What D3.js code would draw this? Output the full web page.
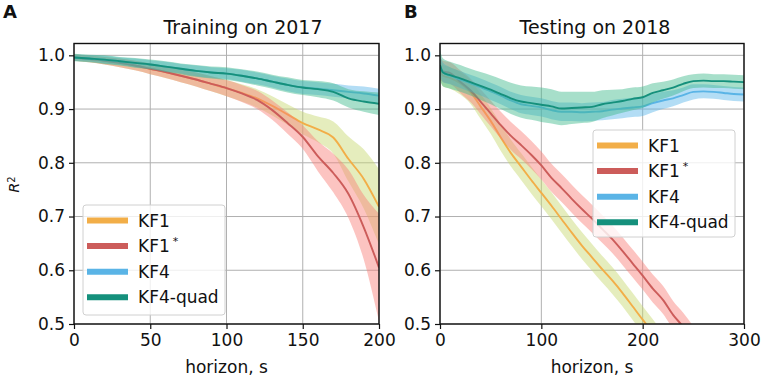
<!DOCTYPE html>
<html>
<head>
<meta charset="utf-8">
<script src="https://cdn.jsdelivr.net/npm/d3@7"></script>
<style>
  body { margin: 0; background: #fff; }
  text { font-family: "DejaVu Sans", sans-serif; fill: #111; }
</style>
</head>
<body>
<script>
// basic settings
const width = 761;
const height = 377;
const yTop = 43.5, yBottom = 324;

// panel A: training on 2017
const horizonA = [0, 10, 20, 30, 40, 50, 60, 70, 80, 90, 100, 110, 120, 130, 140, 150, 160, 170, 180, 190, 200];
const kf1A     = [0.996, 0.993, 0.990, 0.986, 0.981, 0.975, 0.969, 0.962, 0.955, 0.947, 0.939, 0.930, 0.920, 0.906, 0.890, 0.874, 0.862, 0.847, 0.807, 0.770, 0.718];
const kf1SpreadA = [0.006, 0.006, 0.007, 0.008, 0.009, 0.010, 0.011, 0.012, 0.013, 0.014, 0.015, 0.016, 0.017, 0.018, 0.019, 0.021, 0.024, 0.030, 0.042, 0.055, 0.070];
const kf1sA    = [0.996, 0.993, 0.990, 0.986, 0.981, 0.975, 0.969, 0.962, 0.955, 0.947, 0.939, 0.929, 0.917, 0.898, 0.874, 0.848, 0.812, 0.781, 0.742, 0.680, 0.605];
const kf1sSpreadA = [0.006, 0.006, 0.007, 0.008, 0.009, 0.010, 0.011, 0.012, 0.013, 0.014, 0.015, 0.016, 0.017, 0.018, 0.020, 0.022, 0.028, 0.036, 0.045, 0.060, 0.100];
const kf4A     = [0.996, 0.994, 0.992, 0.989, 0.986, 0.983, 0.979, 0.975, 0.971, 0.968, 0.966, 0.962, 0.957, 0.951, 0.945, 0.940, 0.938, 0.935, 0.932, 0.929, 0.925];
const kf4SpreadA = [0.006, 0.006, 0.007, 0.007, 0.008, 0.008, 0.009, 0.009, 0.010, 0.010, 0.010, 0.011, 0.011, 0.011, 0.012, 0.012, 0.012, 0.012, 0.012, 0.013, 0.013];
const kf4qA    = [0.996, 0.994, 0.992, 0.989, 0.986, 0.983, 0.979, 0.975, 0.971, 0.968, 0.966, 0.962, 0.957, 0.951, 0.945, 0.940, 0.937, 0.932, 0.920, 0.914, 0.910];
const kf4qSpreadA = [0.007, 0.007, 0.008, 0.008, 0.009, 0.009, 0.010, 0.010, 0.011, 0.011, 0.012, 0.012, 0.013, 0.013, 0.014, 0.014, 0.015, 0.016, 0.017, 0.019, 0.021];

// panel B: testing on 2018
const horizonB = [0, 3, 10, 20, 30, 40, 50, 60, 70, 80, 90, 100, 110, 120, 130, 140, 150, 160, 170, 180, 190, 200, 210, 220, 230, 240, 250, 260, 270, 280, 290, 300];
const kf1B     = [0.975, 0.962, 0.958, 0.948, 0.932, 0.905, 0.878, 0.847, 0.818, 0.793, 0.768, 0.744, 0.720, 0.695, 0.670, 0.646, 0.624, 0.602, 0.581, 0.558, 0.533, 0.508, 0.484, 0.460, 0.436, 0.412, 0.388, 0.364, 0.340, 0.316, 0.292, 0.268];
const kf1SpreadB = [0.020, 0.020, 0.020, 0.021, 0.022, 0.023, 0.024, 0.025, 0.025, 0.025, 0.025, 0.025, 0.025, 0.025, 0.025, 0.025, 0.025, 0.025, 0.025, 0.025, 0.025, 0.025, 0.025, 0.025, 0.025, 0.025, 0.025, 0.025, 0.025, 0.025, 0.025, 0.025];
const kf1sB    = [0.975, 0.970, 0.967, 0.951, 0.935, 0.914, 0.892, 0.870, 0.850, 0.833, 0.815, 0.795, 0.772, 0.753, 0.733, 0.714, 0.696, 0.677, 0.658, 0.636, 0.613, 0.590, 0.566, 0.545, 0.517, 0.495, 0.470, 0.446, 0.422, 0.398, 0.374, 0.350];
const kf1sSpreadB = [0.020, 0.020, 0.020, 0.021, 0.022, 0.023, 0.024, 0.025, 0.026, 0.026, 0.026, 0.026, 0.026, 0.026, 0.026, 0.026, 0.026, 0.026, 0.026, 0.026, 0.026, 0.026, 0.026, 0.026, 0.026, 0.026, 0.026, 0.026, 0.026, 0.026, 0.026, 0.026];
const kf4B     = [0.982, 0.968, 0.962, 0.955, 0.948, 0.941, 0.933, 0.925, 0.916, 0.909, 0.906, 0.903, 0.898, 0.895, 0.895, 0.894, 0.895, 0.896, 0.899, 0.901, 0.903, 0.905, 0.911, 0.916, 0.920, 0.926, 0.932, 0.933, 0.932, 0.930, 0.928, 0.927];
const kf4SpreadB = [0.020, 0.018, 0.016, 0.016, 0.016, 0.016, 0.016, 0.016, 0.016, 0.017, 0.017, 0.017, 0.017, 0.017, 0.017, 0.017, 0.017, 0.017, 0.018, 0.018, 0.018, 0.018, 0.017, 0.016, 0.015, 0.014, 0.014, 0.013, 0.013, 0.013, 0.013, 0.013];
const kf4qB    = [0.982, 0.968, 0.963, 0.957, 0.950, 0.943, 0.936, 0.928, 0.920, 0.914, 0.911, 0.908, 0.905, 0.901, 0.902, 0.903, 0.904, 0.909, 0.912, 0.915, 0.919, 0.922, 0.930, 0.935, 0.940, 0.947, 0.952, 0.953, 0.952, 0.952, 0.951, 0.950];
const kf4qSpreadB = [0.028, 0.026, 0.025, 0.025, 0.025, 0.026, 0.027, 0.028, 0.029, 0.030, 0.031, 0.032, 0.032, 0.031, 0.030, 0.029, 0.028, 0.026, 0.024, 0.022, 0.021, 0.020, 0.018, 0.016, 0.015, 0.014, 0.013, 0.013, 0.013, 0.013, 0.013, 0.013];

const yTicks = [0.5, 0.6, 0.7, 0.8, 0.9, 1.0];
const xTicksA = [0, 50, 100, 150, 200];
const xTicksB = [0, 100, 200, 300];

const seriesNames = ["KF1", "KF1*", "KF4", "KF4-quad"];
const lineColors = ["#f2ae48", "#cc5c5a", "#5ab4e6", "#15907c"];
const bandColors = ["#c5d86d", "#f87c76", "#56b4e9", "#3cb88a"];

const svg = d3.select("body").append("svg")
  .attr("width", width)
  .attr("height", height);

const y = d3.scaleLinear().domain([0.5, 1.022]).range([yBottom, yTop]);

drawPanel({
  id: "A", letterX: 3, left: 74, right: 379, xMax: 200, xTicks: xTicksA,
  title: "Training on 2017", titleX: 243,
  horizon: horizonA,
  means: [kf1A, kf1sA, kf4A, kf4qA],
  spreads: [kf1SpreadA, kf1sSpreadA, kf4SpreadA, kf4qSpreadA],
  legend: { x: 83, y: 205, w: 142, h: 110 }
});

drawPanel({
  id: "B", letterX: 404, left: 440, right: 744, xMax: 300, xTicks: xTicksB,
  title: "Testing on 2018", titleX: 595,
  horizon: horizonB,
  means: [kf1B, kf1sB, kf4B, kf4qB],
  spreads: [kf1SpreadB, kf1sSpreadB, kf4SpreadB, kf4qSpreadB],
  legend: { x: 593, y: 130, w: 142, h: 107 }
});

// y label R^2
const yl = svg.append("text")
  .attr("transform", "translate(19,184.5) rotate(-90)")
  .attr("text-anchor", "middle")
  .style("font-size", "14px");
yl.append("tspan").style("font-style", "italic").text("R");
yl.append("tspan").attr("dy", "-0.45em").style("font-size", "10px").text("2");

function drawPanel(p) {
  const x = d3.scaleLinear().domain([0, p.xMax]).range([p.left, p.right]);
  const g = svg.append("g");

  g.append("text")
    .attr("x", p.letterX).attr("y", 18)
    .style("font-weight", "bold").style("font-size", "18px")
    .text(p.id);

  g.append("text")
    .attr("x", p.titleX).attr("y", 34)
    .attr("text-anchor", "middle")
    .style("font-size", "19px")
    .text(p.title);

  // grid
  g.append("g").selectAll("line").data(p.xTicks).join("line")
    .attr("x1", d => x(d)).attr("x2", d => x(d))
    .attr("y1", yTop).attr("y2", yBottom)
    .attr("stroke", "#b0b0b0").attr("stroke-width", 1);
  g.append("g").selectAll("line").data(yTicks).join("line")
    .attr("x1", p.left).attr("x2", p.right)
    .attr("y1", d => y(d)).attr("y2", d => y(d))
    .attr("stroke", "#b0b0b0").attr("stroke-width", 1);

  const clipId = "clip" + p.id;
  g.append("clipPath").attr("id", clipId)
    .append("rect")
    .attr("x", p.left).attr("y", yTop)
    .attr("width", p.right - p.left).attr("height", yBottom - yTop);

  const plot = g.append("g").attr("clip-path", "url(#" + clipId + ")");

  p.means.forEach((m, i) => {
    const pts = p.horizon.map((h, j) => ({ h: h, v: m[j], s: p.spreads[i][j] }));
    const area = d3.area()
      .x(d => x(d.h))
      .y0(d => y(d.v - d.s))
      .y1(d => y(d.v + d.s))
      .curve(d3.curveMonotoneX);
    const line = d3.line()
      .x(d => x(d.h))
      .y(d => y(d.v))
      .curve(d3.curveMonotoneX);
    plot.append("path").datum(pts)
      .attr("d", area)
      .attr("fill", bandColors[i])
      .attr("fill-opacity", 0.45);
    plot.append("path").datum(pts)
      .attr("d", line)
      .attr("fill", "none")
      .attr("stroke", lineColors[i])
      .attr("stroke-width", 1.9);
  });

  // axes
  const xAxis = g.append("g")
    .attr("transform", "translate(0," + yBottom + ")")
    .call(d3.axisBottom(x).tickValues(p.xTicks).tickSize(5).tickPadding(5).tickFormat(d3.format("d")));
  const yAxis = g.append("g")
    .attr("transform", "translate(" + p.left + ",0)")
    .call(d3.axisLeft(y).tickValues(yTicks).tickSize(5).tickPadding(4).tickFormat(d3.format(".1f")));
  [xAxis, yAxis].forEach(a => {
    a.select(".domain").remove();
    a.selectAll("line").attr("stroke", "#111").attr("stroke-width", 1.2);
    a.selectAll("text").style("font-size", "17px").style("font-family", "DejaVu Sans").attr("fill", "#111");
  });

  // frame
  g.append("rect")
    .attr("x", p.left).attr("y", yTop)
    .attr("width", p.right - p.left).attr("height", yBottom - yTop)
    .attr("fill", "none").attr("stroke", "#111").attr("stroke-width", 1.4);

  g.append("text")
    .attr("x", (p.left + p.right) / 2).attr("y", 373)
    .attr("text-anchor", "middle")
    .style("font-size", "17px")
    .text("horizon, s");

  // legend
  const L = p.legend;
  const lg = g.append("g");
  lg.append("rect")
    .attr("x", L.x).attr("y", L.y).attr("width", L.w).attr("height", L.h)
    .attr("rx", 3)
    .attr("fill", "#fff").attr("fill-opacity", 0.8)
    .attr("stroke", "#d0d0d0").attr("stroke-width", 1);
  seriesNames.forEach((name, i) => {
    const cy = L.y + 15.5 + i * 25.6;
    lg.append("line")
      .attr("x1", L.x + 4).attr("x2", L.x + 45)
      .attr("y1", cy).attr("y2", cy)
      .attr("stroke", lineColors[i]).attr("stroke-width", 6);
    const t = lg.append("text")
      .attr("x", L.x + 55).attr("y", cy + 6)
      .style("font-size", "17px");
    if (name === "KF1*") {
      t.append("tspan").text("KF1");
      t.append("tspan").attr("dx", 3).attr("dy", -7).style("font-size", "11px").text("*");
    } else {
      t.text(name);
    }
  });
}
</script>
</body>
</html>
